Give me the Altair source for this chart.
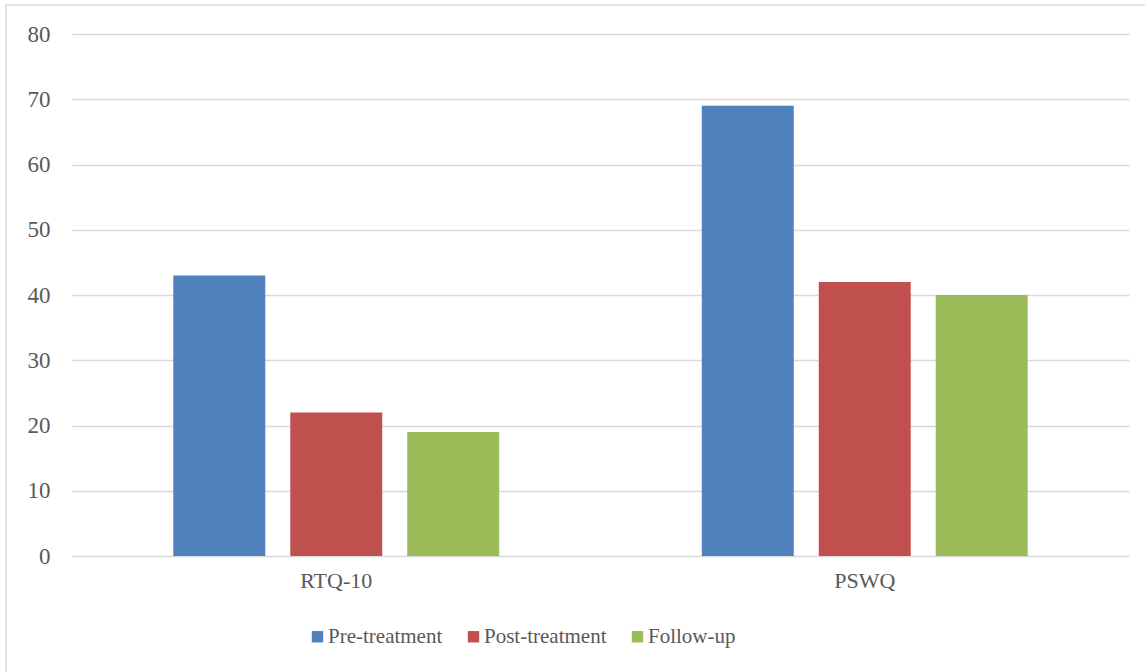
import altair as alt
import pandas as pd

# Questionnaire scores per assessment phase
measures = ["RTQ-10", "PSWQ"]
phases = ["Pre-treatment", "Post-treatment", "Follow-up"]
pre_scores = [43, 69]
post_scores = [22, 42]
follow_scores = [19, 40]
phase_colors = ["#4F81BD", "#C0504D", "#9BBB59"]

rows = []
for i, m in enumerate(measures):
    for phase, series in zip(phases, [pre_scores, post_scores, follow_scores]):
        rows.append({"measure": m, "phase": phase, "score": series[i]})
df = pd.DataFrame(rows)

FONT = "Liberation Serif"
TEXT = "#595959"
W, H = 1057, 522
LEFT, TOP = 72, 34

bars = alt.Chart(df).mark_bar().encode(
    x=alt.X("measure:N", sort=measures, title=None,
            scale=alt.Scale(paddingInner=0, paddingOuter=0),
            axis=alt.Axis(labelAngle=0, labelFontSize=22, labelFont=FONT,
                          labelColor=TEXT, domain=False, ticks=False,
                          labelPadding=14, grid=False)),
    xOffset=alt.XOffset("phase:N", sort=phases,
                        scale=alt.Scale(paddingInner=0.2137, paddingOuter=0.866)),
    y=alt.Y("score:Q", title=None,
            scale=alt.Scale(domain=[0, 80], nice=False),
            axis=alt.Axis(values=list(range(0, 81, 10)), labelFontSize=23,
                          labelFont=FONT, labelColor=TEXT, domain=False,
                          ticks=False, labelPadding=22, grid=True,
                          gridColor="#D9D9D9", gridWidth=1.5)),
    color=alt.Color("phase:N", sort=phases,
                    scale=alt.Scale(domain=phases, range=phase_colors),
                    legend=alt.Legend(orient="none", legendX=235, legendY=592,
                                      direction="horizontal", title=None,
                                      symbolType="square", symbolSize=130,
                                      symbolStrokeWidth=0, labelFontSize=21,
                                      labelFont=FONT, labelColor=TEXT,
                                      labelOffset=0, columnPadding=20)),
)

# Outer frame around the figure
frame = alt.Chart(pd.DataFrame({"k": [0]})).mark_rect(
    fill=None, stroke="#D9D9D9", strokeWidth=1.5
).encode(
    x=alt.value(6 - LEFT), x2=alt.value(1145 - LEFT + 20),
    y=alt.value(5 - TOP), y2=alt.value(672 - TOP + 20),
)

chart = alt.layer(bars, frame).properties(
    width=W, height=H,
    autosize=alt.AutoSizeParams(type="none"),
    padding={"left": LEFT, "top": TOP, "right": 1145 - LEFT - W, "bottom": 672 - TOP - H},
    background="white",
).configure_view(stroke=None)

chart.save("out.html", embed_options={"renderer": "svg", "actions": False})
